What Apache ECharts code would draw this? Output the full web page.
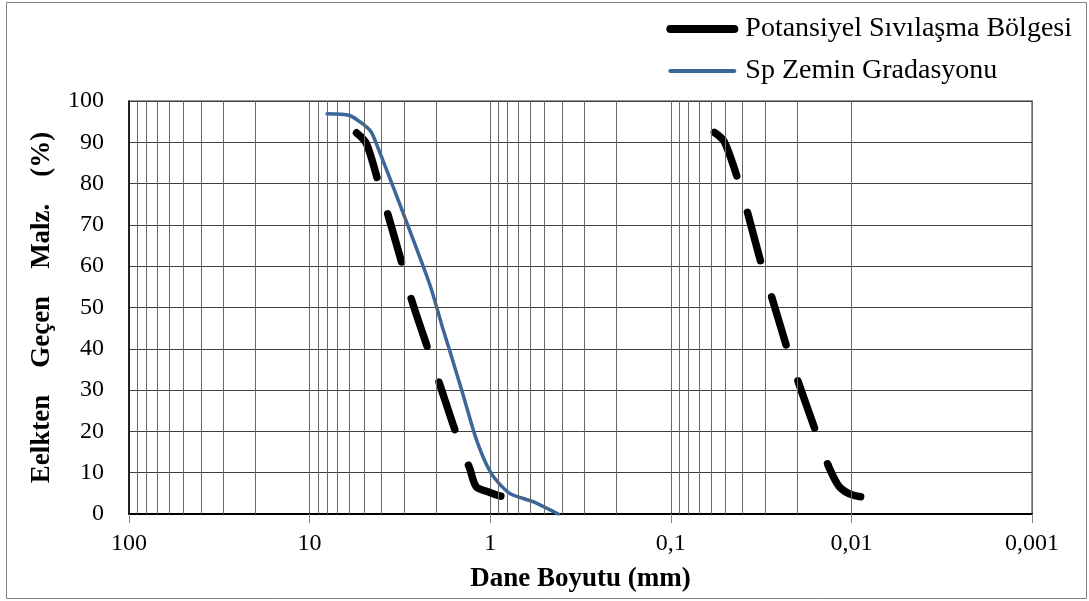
<!DOCTYPE html>
<html><head><meta charset="utf-8">
<script src="https://cdn.jsdelivr.net/npm/echarts@6/dist/echarts.min.js"></script>
<style>html,body{margin:0;padding:0;background:#fff}#c{width:1089px;height:601px}</style>
</head><body><div id="c"></div>
<script>
// tick labels (Turkish decimal comma)
const xTickValues = [100, 10, 1, 0.1, 0.01, 0.001];
const xTickLabels = ['100', '10', '1', '0,1', '0,01', '0,001'];
// minor log gridlines
const gridMantissas = [2, 3, 4, 5, 6, 7, 8, 9];
const gridDecades = [0.001, 0.01, 0.1, 1, 10];

// Potansiyel Sıvılaşma Bölgesi - coarse boundary
const zoneCoarseSize = [5.5, 4.85, 4.13, 3.69, 3.02, 2.74, 2.17, 1.91, 1.51, 1.30, 1.195, 1.03, 0.888, 0.73];
const zoneCoarsePct  = [92.3, 89.7, 79.8, 72.6, 59.3, 52.2, 38.9, 31.6, 18.3, 11.1, 6.6, 5.4, 4.4, 3.6];
// Potansiyel Sıvılaşma Bölgesi - fine boundary
const zoneFineSize = [0.0574, 0.0505, 0.0418, 0.0375, 0.031, 0.0273, 0.0221, 0.0194, 0.0152, 0.01324, 0.01166, 0.00984, 0.00746];
const zoneFinePct  = [92.4, 90.1, 80.0, 72.8, 59.4, 51.8, 38.5, 31.2, 18.1, 11.1, 6.6, 4.6, 3.8];
// Sp Zemin Gradasyonu
const spSize = [8.0, 6.0, 4.96, 4.56, 4.27, 3.18, 2.17, 1.84, 1.68, 1.42, 1.19, 0.987, 0.78, 0.58, 0.42];
const spPct  = [96.9, 96.5, 94.1, 92.5, 89.7, 75.2, 55.8, 45.3, 39.7, 29.2, 17.9, 9.85, 5.0, 3.0, 0];

const zip = (a, b) => a.map((v, i) => [v, b[i]]);
const FONT = 'Liberation Serif';
const ZONE = 'Potansiyel Sıvılaşma Bölgesi';
const SP = 'Sp Zemin Gradasyonu';

const minorLines = [];
gridDecades.forEach(d => gridMantissas.forEach(m => minorLines.push({ xAxis: +(d * m).toPrecision(6) })));

function tickLabel(v) {
  const e = Math.round(Math.log10(v));
  const i = xTickValues.findIndex(t => Math.round(Math.log10(t)) === e);
  return i >= 0 ? xTickLabels[i] : '';
}

const chart = echarts.init(document.getElementById('c'), null, { renderer: 'canvas' });
const dashStyle = { color: '#000', width: 7.5, type: [50, 38], cap: 'round', join: 'round' };

chart.setOption({
  animation: false,
  backgroundColor: '#fff',
  textStyle: { fontFamily: FONT },
  graphic: [{
    type: 'rect', shape: { x: 6.5, y: 2.5, width: 1080, height: 596 },
    style: { fill: 'none', stroke: '#808080', lineWidth: 1 }, silent: true, z: -1
  }],
  legend: {
    orient: 'vertical', right: 12, top: 10,
    itemWidth: 64, itemHeight: 26, itemGap: 14,
    textStyle: { fontFamily: FONT, fontSize: 28, color: '#000', padding: [0, 0, 0, 6] },
    data: [
      { name: ZONE, itemStyle: { opacity: 0 }, lineStyle: { type: 'solid', width: 8, color: '#000', cap: 'round' } },
      { name: SP, itemStyle: { opacity: 0 }, lineStyle: { type: 'solid', width: 4, color: '#3b6699' } }
    ]
  },
  grid: { left: 129, right: 57, top: 101, bottom: 87, show: true, borderColor: '#999', borderWidth: 2, backgroundColor: 'transparent' },
  xAxis: {
    type: 'log', logBase: 10, min: 0.001, max: 100, inverse: true,
    name: 'Dane Boyutu (mm)', nameLocation: 'middle', nameGap: 52,
    nameTextStyle: { fontFamily: FONT, fontSize: 27, fontWeight: 'bold', color: '#000' },
    axisLine: { show: true, onZero: false, lineStyle: { color: '#000', width: 2 } },
    axisTick: { show: true, length: 9, lineStyle: { color: '#888', width: 1 } },
    axisLabel: { fontFamily: FONT, fontSize: 24, color: '#000', margin: 18, formatter: tickLabel },
    splitLine: { show: true, lineStyle: { color: '#666', width: 1 } },
    minorTick: { show: false }, minorSplitLine: { show: false }
  },
  yAxis: {
    type: 'value', min: 0, max: 100, interval: 10,
    name: 'Eelkten    Geçen    Malz.    (%)', nameLocation: 'middle', nameGap: 73, nameRotate: 90,
    nameTextStyle: { fontFamily: FONT, fontSize: 27, fontWeight: 'bold', color: '#000' },
    axisLine: { show: true, lineStyle: { color: '#000', width: 1.5 } },
    axisTick: { show: false },
    axisLabel: { fontFamily: FONT, fontSize: 24, color: '#000', margin: 25 },
    splitLine: { show: true, lineStyle: { color: '#404040', width: 1 } }
  },
  series: [
    {
      name: 'grid-minor', type: 'line', data: [], silent: true, z: 1,
      markLine: {
        silent: true, symbol: ['none', 'none'], label: { show: false }, animation: false,
        lineStyle: { color: '#666', width: 1, type: 'solid' },
        emphasis: { disabled: true },
        data: minorLines
      }
    },
    {
      name: ZONE, type: 'line', data: zip(zoneCoarseSize, zoneCoarsePct), smooth: 0.3,
      symbol: 'none', lineStyle: dashStyle, itemStyle: { color: '#000' }, z: 3
    },
    {
      name: ZONE, type: 'line', data: zip(zoneFineSize, zoneFinePct), smooth: 0.3,
      symbol: 'none', lineStyle: dashStyle, itemStyle: { color: '#000' }, z: 3
    },
    {
      name: SP, type: 'line', data: zip(spSize, spPct), smooth: 0.25,
      symbol: 'none', lineStyle: { color: '#3b6699', width: 3.5, cap: 'round' }, itemStyle: { color: '#3b6699' }, z: 4
    }
  ]
});
</script>
</body></html>
